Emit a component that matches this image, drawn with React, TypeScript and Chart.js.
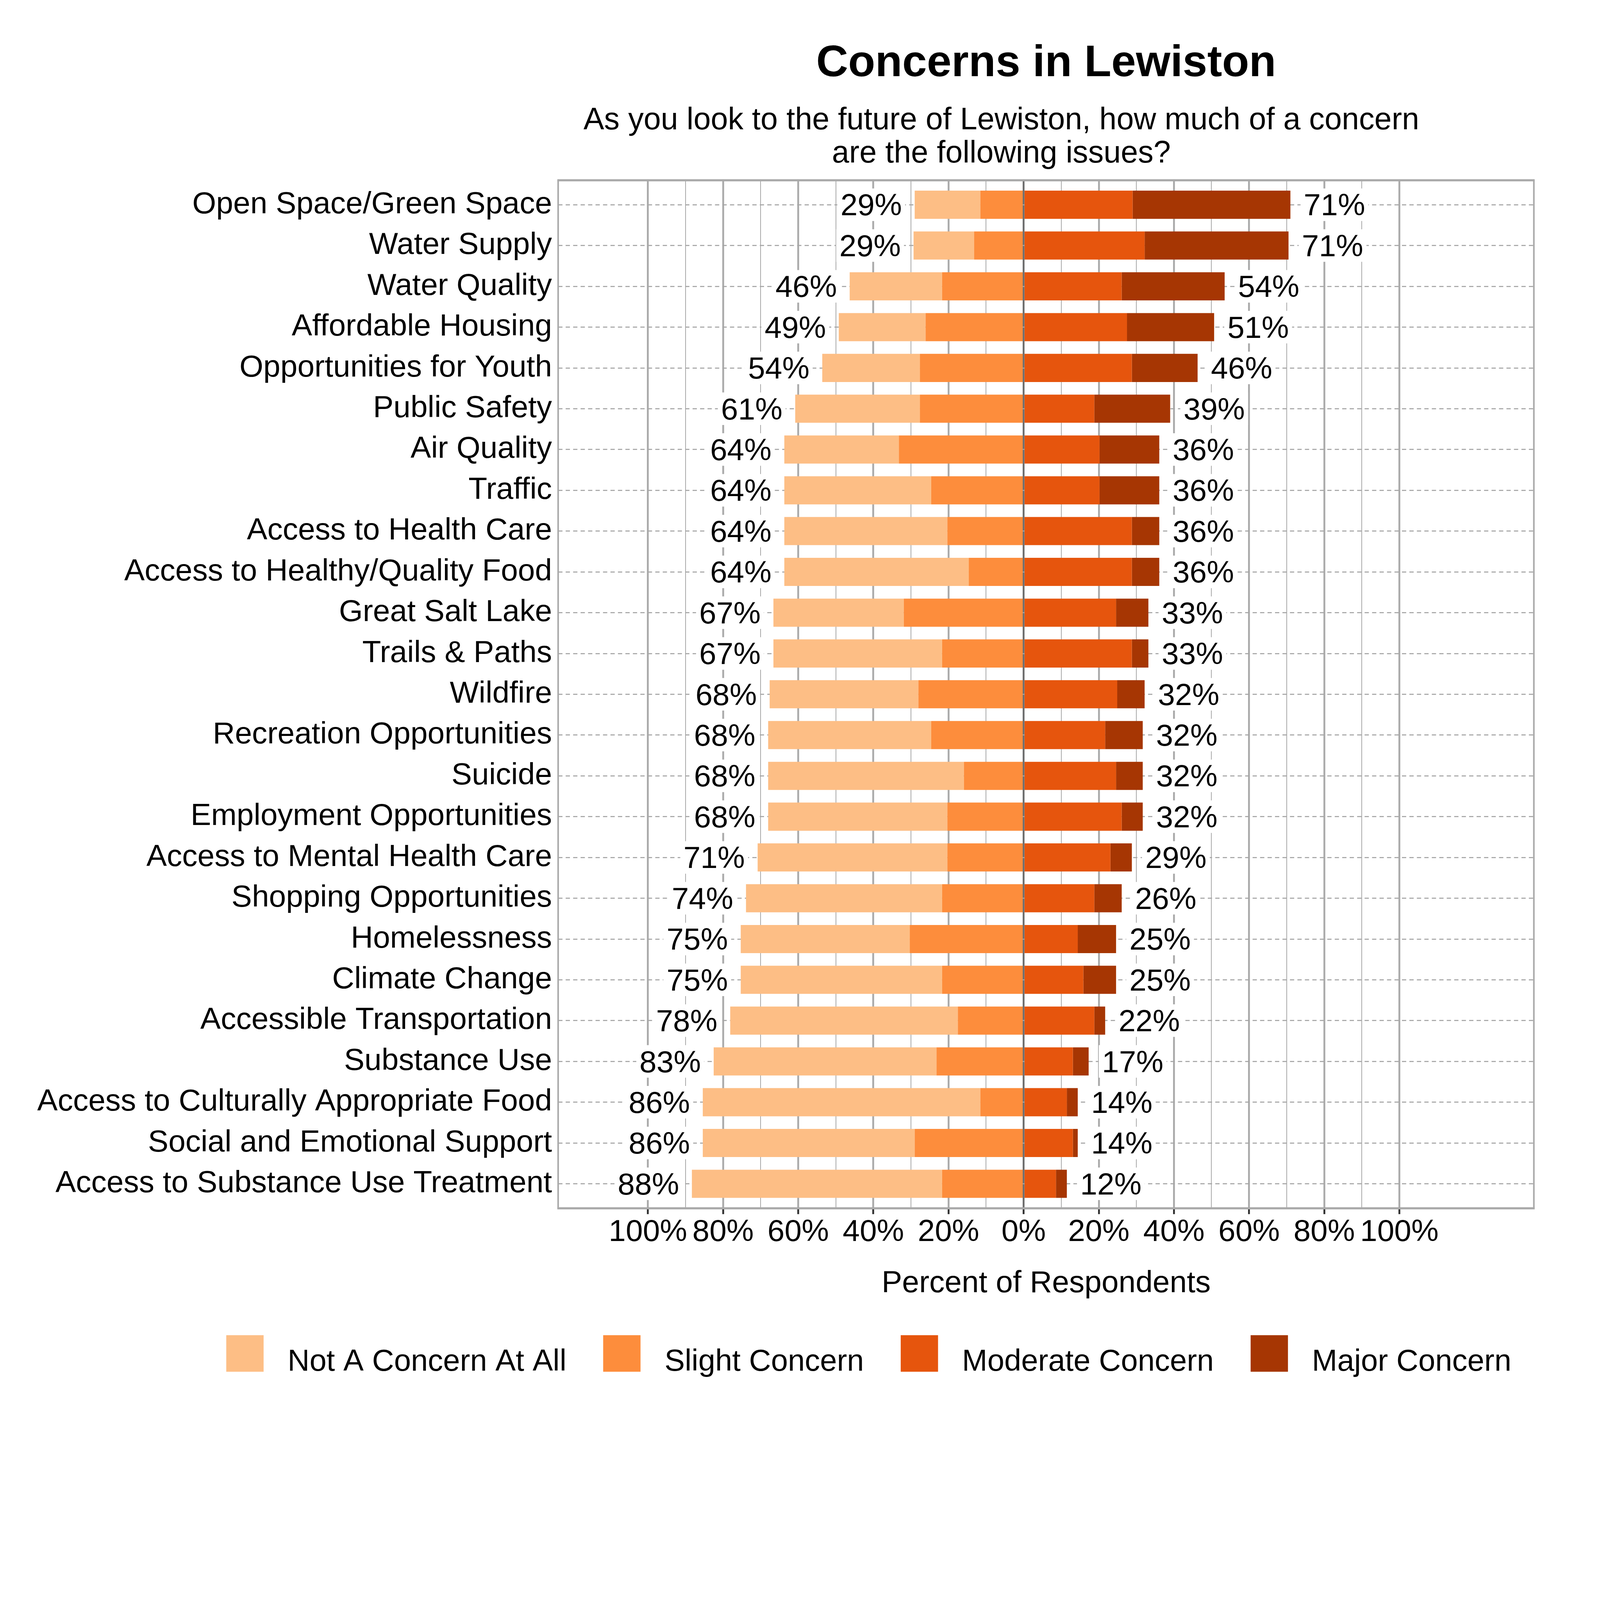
import { useEffect, useRef } from 'react';
import { Chart, registerables } from 'chart.js';

Chart.register(...registerables);

const FONT = "'Liberation Sans', Arial, Helvetica, sans-serif";
const W = 6000;
const H = 5400;

const categories = [
  'Open Space/Green Space',
  'Water Supply',
  'Water Quality',
  'Affordable Housing',
  'Opportunities for Youth',
  'Public Safety',
  'Air Quality',
  'Traffic',
  'Access to Health Care',
  'Access to Healthy/Quality Food',
  'Great Salt Lake',
  'Trails & Paths',
  'Wildfire',
  'Recreation Opportunities',
  'Suicide',
  'Employment Opportunities',
  'Access to Mental Health Care',
  'Shopping Opportunities',
  'Homelessness',
  'Climate Change',
  'Accessible Transportation',
  'Substance Use',
  'Access to Culturally Appropriate Food',
  'Social and Emotional Support',
  'Access to Substance Use Treatment',
];

const notConcern = [17.5, 16.1, 24.6, 23.1, 26.0, 33.2, 30.5, 39.1, 43.4, 49.1, 34.7, 44.9, 39.6, 43.4, 52.1, 47.7, 50.5, 52.2, 45.0, 53.6, 60.6, 59.3, 73.9, 56.4, 66.6];
const slightConcern = [11.5, 13.2, 21.7, 26.1, 27.6, 27.6, 33.2, 24.6, 20.3, 14.6, 31.9, 21.7, 28.0, 24.6, 15.9, 20.3, 20.3, 21.7, 30.3, 21.7, 17.5, 23.2, 11.5, 29.0, 21.7];
const moderateConcern = [29.0, 32.2, 26.1, 27.5, 28.8, 18.8, 20.2, 20.2, 28.8, 28.8, 24.6, 28.8, 24.9, 21.7, 24.6, 26.1, 23.1, 18.8, 14.4, 15.9, 18.8, 13.1, 11.5, 13.1, 8.6];
const majorConcern = [42.0, 38.3, 27.4, 23.2, 17.5, 20.2, 15.9, 15.9, 7.3, 7.3, 8.6, 4.4, 7.3, 10.0, 7.1, 5.6, 5.7, 7.3, 10.2, 8.7, 2.9, 4.2, 2.9, 1.3, 2.9];

const leftLabels = [29, 29, 46, 49, 54, 61, 64, 64, 64, 64, 67, 67, 68, 68, 68, 68, 71, 74, 75, 75, 78, 83, 86, 86, 88];
const rightLabels = [71, 71, 54, 51, 46, 39, 36, 36, 36, 36, 33, 33, 32, 32, 32, 32, 29, 26, 25, 25, 22, 17, 14, 14, 12];

const seriesNames = ['Not A Concern At All', 'Slight Concern', 'Moderate Concern', 'Major Concern'];
const seriesColors = ['#FDBE85', '#FD8D3C', '#E6550D', '#A63603'];

const xTickValues = [-100, -90, -80, -70, -60, -50, -40, -30, -20, -10, 0, 10, 20, 30, 40, 50, 60, 70, 80, 90, 100];

const titleText = 'Concerns in Lewiston';
const subtitleLines = ['As you look to the future of Lewiston, how much of a concern', 'are the following issues?'];
const xAxisTitle = 'Percent of Respondents';

const decorPlugin = {
  id: 'decor',
  afterDatasetsDraw(chart: any) {
    const { ctx, chartArea: a } = chart;
    const x = chart.scales.x;
    const y = chart.scales.y;
    ctx.save();
    // panel border
    ctx.strokeStyle = '#AAAAAA';
    ctx.lineWidth = 8;
    ctx.beginPath();
    ctx.moveTo(a.left - 3, a.top);
    ctx.lineTo(a.right + 3, a.top);
    ctx.moveTo(a.left - 3, a.bottom);
    ctx.lineTo(a.right + 3, a.bottom);
    ctx.stroke();
    ctx.lineWidth = 6;
    ctx.beginPath();
    ctx.moveTo(a.left, a.top);
    ctx.lineTo(a.left, a.bottom);
    ctx.moveTo(a.right, a.top);
    ctx.lineTo(a.right, a.bottom);
    ctx.stroke();

    // percentage labels with white boxes
    ctx.font = `115px ${FONT}`;
    ctx.textBaseline = 'alphabetic';
    for (let i = 0; i < categories.length; i++) {
      const cy = y.getPixelForValue(i);
      const leftEnd = notConcern[i] + slightConcern[i];
      const rightEnd = moderateConcern[i] + majorConcern[i];
      const lt = `${leftLabels[i]}%`;
      const rt = `${rightLabels[i]}%`;
      const lw = ctx.measureText(lt).width;
      const rw = ctx.measureText(rt).width;
      const lx = x.getPixelForValue(-leftEnd) - 48;
      const rx = x.getPixelForValue(rightEnd) + 50;
      ctx.fillStyle = '#FFFFFF';
      ctx.fillRect(lx - lw - 12, cy - 61, lw + 24, 122);
      ctx.fillRect(rx - 12, cy - 61, rw + 24, 122);
      ctx.fillStyle = '#000000';
      ctx.textAlign = 'right';
      ctx.fillText(lt, lx, cy + 40);
      ctx.textAlign = 'left';
      ctx.fillText(rt, rx, cy + 40);
    }
    ctx.restore();
  },
  afterDraw(chart: any) {
    const { ctx } = chart;
    ctx.save();
    ctx.fillStyle = '#000000';
    ctx.textBaseline = 'alphabetic';
    ctx.textAlign = 'center';
    ctx.font = `bold 166px ${FONT}`;
    ctx.fillText(titleText, 3923, 286);
    ctx.font = `116px ${FONT}`;
    ctx.fillText(subtitleLines[0], 3755, 485);
    ctx.fillText(subtitleLines[1], 3755, 609);
    ctx.font = `115px ${FONT}`;
    ctx.fillText(xAxisTitle, 3923, 4845);

    // legend
    ctx.font = `114px ${FONT}`;
    const order = [1, 0, 2, 3]; // dataset index for each legend entry
    const swW = 140;
    const swH = 137;
    const gapText = 90;
    const gapItem = 138;
    const widths = seriesNames.map((n) => ctx.measureText(n).width);
    let total = 0;
    widths.forEach((w, i) => {
      total += swW + gapText + w + (i < widths.length - 1 ? gapItem : 0);
    });
    let cx = 3258 - total / 2;
    ctx.textAlign = 'left';
    for (let i = 0; i < seriesNames.length; i++) {
      const ds = chart.data.datasets[order[i]];
      ctx.fillStyle = ds.backgroundColor;
      ctx.fillRect(cx, 5007, swW, swH);
      ctx.fillStyle = '#000000';
      ctx.fillText(ds.label, cx + swW + gapText, 5140);
      cx += swW + gapText + widths[i] + gapItem;
    }
    ctx.restore();
  },
};

function fitScale() {
  if (typeof window === 'undefined') return 1;
  const vw = window.innerWidth || W;
  const vh = window.innerHeight || H;
  return Math.min(1, vw / W, vh / H);
}

export default function App() {
  const ref = useRef<HTMLCanvasElement | null>(null);
  const s = fitScale();

  useEffect(() => {
    document.body.style.margin = '0';
    document.body.style.overflow = 'hidden';
    const canvas = ref.current;
    if (!canvas) return;
    Chart.defaults.font.family = FONT;

    const toPoints = (vals: number[], sign: number) => vals.map((v, i) => ({ x: sign * v, y: i }));

    const chart = new Chart(canvas, {
      type: 'bar',
      data: {
        datasets: [
          { label: seriesNames[1], data: toPoints(slightConcern, -1), backgroundColor: seriesColors[1], stack: 's' },
          { label: seriesNames[0], data: toPoints(notConcern, -1), backgroundColor: seriesColors[0], stack: 's' },
          { label: seriesNames[2], data: toPoints(moderateConcern, 1), backgroundColor: seriesColors[2], stack: 's' },
          { label: seriesNames[3], data: toPoints(majorConcern, 1), backgroundColor: seriesColors[3], stack: 's' },
        ] as any,
      },
      options: {
        indexAxis: 'y',
        animation: false,
        responsive: false,
        devicePixelRatio: s,
        events: [],
        layout: { padding: { left: 0, top: 676, right: 248, bottom: 669 } },
        datasets: { bar: { categoryPercentage: 1, barPercentage: 0.69, borderWidth: 0 } } as any,
        plugins: {
          legend: { display: false },
          title: { display: false },
          tooltip: { enabled: false },
        },
        scales: {
          x: {
            type: 'linear',
            stacked: true,
            offset: false,
            min: -123.9,
            max: 135.8,
            afterBuildTicks: (scale: any) => {
              scale.ticks = xTickValues.map((v) => ({ value: v }));
            },
            afterFit: (scale: any) => {
              scale.height = 200;
            },
            border: { display: false },
            grid: {
              offset: false,
              drawOnChartArea: true,
              drawTicks: true,
              tickLength: 22,
              color: (c: any) => {
                const v = c.tick ? c.tick.value : 1;
                return v === 0 ? '#6E6E6E' : '#ABABAB';
              },
              lineWidth: (c: any) => {
                const v = c.tick ? c.tick.value : 1;
                return v % 20 === 0 ? 7 : 3;
              },
              tickColor: (c: any) => {
                const v = c.tick ? c.tick.value : 1;
                return v % 20 === 0 ? '#333333' : 'rgba(0,0,0,0)';
              },
              tickWidth: (c: any) => {
                const v = c.tick ? c.tick.value : 1;
                return v % 20 === 0 ? 7 : 0;
              },
            },
            ticks: {
              autoSkip: false,
              maxRotation: 0,
              minRotation: 0,
              padding: 0,
              color: '#000000',
              font: { size: 115, family: FONT },
              callback: (v: any) => (Number(v) % 20 === 0 ? `${Math.abs(Number(v))}%` : ''),
            },
          },
          y: {
            type: 'linear',
            stacked: true,
            reverse: true,
            offset: false,
            min: -0.6,
            max: 24.6,
            afterBuildTicks: (scale: any) => {
              scale.ticks = categories.map((_, i) => ({ value: i }));
            },
            afterFit: (scale: any) => {
              scale.width = 2093;
            },
            border: { display: false, dash: [16, 12] },
            grid: {
              offset: false,
              drawOnChartArea: true,
              drawTicks: false,
              color: '#A6A6A6',
              lineWidth: 4,
            },
            ticks: {
              autoSkip: false,
              padding: 23,
              color: '#000000',
              font: { size: 115, family: FONT },
              callback: (v: any) => categories[Math.round(Number(v))] ?? '',
            },
          },
        },
      },
      plugins: [decorPlugin],
    } as any);

    return () => {
      chart.destroy();
    };
  }, [s]);

  return (
    <div style={{ position: 'relative', width: `${W * s}px`, height: `${H * s}px`, overflow: 'hidden', background: '#FFFFFF' }}>
      <canvas
        ref={ref}
        style={{
          position: 'absolute',
          left: 0,
          top: 0,
          display: 'block',
          width: `${W}px`,
          height: `${H}px`,
          transform: `scale(${s})`,
          transformOrigin: '0 0',
        }}
      />
    </div>
  );
}
